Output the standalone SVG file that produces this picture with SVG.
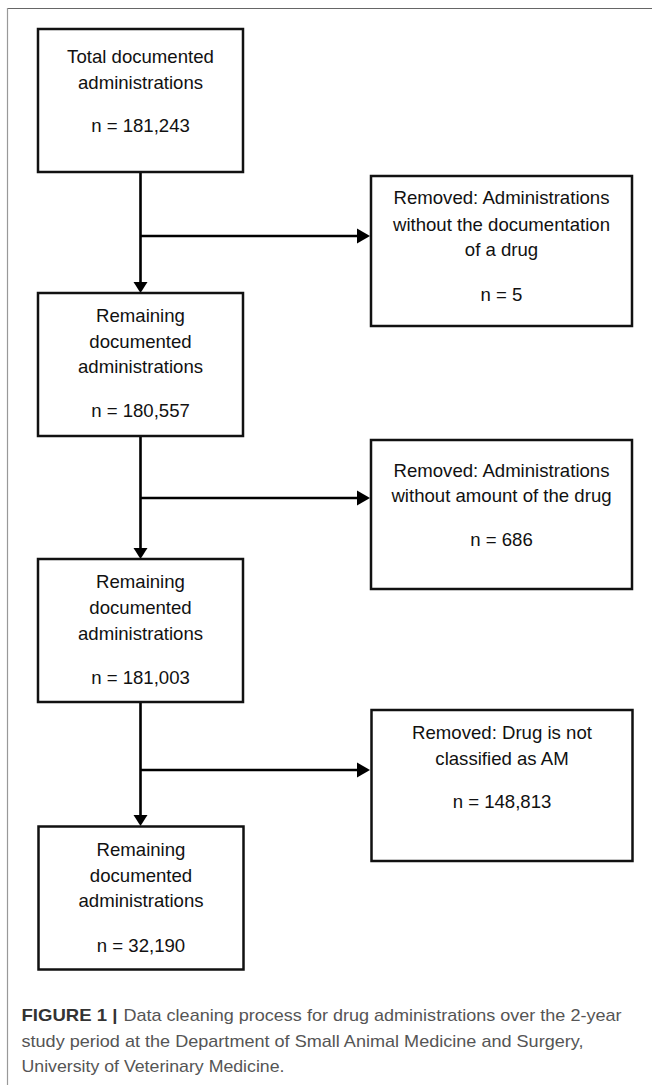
<svg xmlns="http://www.w3.org/2000/svg" width="652" height="1085" viewBox="0 0 652 1085">
  <style>
    .box { fill: #ffffff; stroke: #111111; stroke-width: 2.5; }
    .t { font-family: "Liberation Sans", Arial, sans-serif; font-size: 18.6px; fill: #111111; text-anchor: middle; }
    .line { stroke: #000000; stroke-width: 2.6; fill: none; }
    .head { fill: #000000; stroke: none; }
    .cap { font-family: "Liberation Sans", Arial, sans-serif; font-size: 17px; fill: #555555; }
    .capb { font-family: "Liberation Sans", Arial, sans-serif; font-size: 17px; fill: #333333; font-weight: bold; }
  </style>
  <rect x="0" y="0" width="652" height="1085" fill="#ffffff"/>
  <g id="frame">
    <line x1="7.5" y1="8.5" x2="652" y2="8.5" stroke="#666666" stroke-width="1.2"/>
    <line x1="7.5" y1="8" x2="7.5" y2="1085" stroke="#999999" stroke-width="1.2"/>
  </g>
  <g id="connectors">
    <line class="line" x1="140.5" y1="172" x2="140.5" y2="284"/>
    <polygon class="head" points="133.5,282 147.5,282 140.5,293"/>
    <line class="line" x1="140.5" y1="236" x2="358" y2="236"/>
    <polygon class="head" points="357,228.5 357,243.5 370,236"/>

    <line class="line" x1="140.5" y1="436" x2="140.5" y2="550"/>
    <polygon class="head" points="133.5,548 147.5,548 140.5,559"/>
    <line class="line" x1="140.5" y1="498" x2="358" y2="498"/>
    <polygon class="head" points="357,490.5 357,505.5 370,498"/>

    <line class="line" x1="140.5" y1="702" x2="140.5" y2="817"/>
    <polygon class="head" points="133.5,815 147.5,815 140.5,826"/>
    <line class="line" x1="140.5" y1="770" x2="358" y2="770"/>
    <polygon class="head" points="357,762.5 357,777.5 370,770"/>
  </g>
  <g id="node-total">
    <rect class="box" x="38" y="29" width="205" height="143"/>
    <text class="t" x="140.5" y="63">Total documented</text>
    <text class="t" x="140.5" y="88.5">administrations</text>
    <text class="t" x="140.5" y="132">n = 181,243</text>
  </g>
  <g id="node-removed-1">
    <rect class="box" x="371" y="176" width="261" height="150"/>
    <text class="t" x="501.5" y="204">Removed: Administrations</text>
    <text class="t" x="501.5" y="230.5">without the documentation</text>
    <text class="t" x="501.5" y="256">of a drug</text>
    <text class="t" x="501.5" y="300.5">n = 5</text>
  </g>
  <g id="node-remaining-1">
    <rect class="box" x="38" y="293" width="205" height="143"/>
    <text class="t" x="140.5" y="321.5">Remaining</text>
    <text class="t" x="140.5" y="347.5">documented</text>
    <text class="t" x="140.5" y="373">administrations</text>
    <text class="t" x="140.5" y="417">n = 180,557</text>
  </g>
  <g id="node-removed-2">
    <rect class="box" x="371" y="440" width="261" height="149"/>
    <text class="t" x="501.5" y="476.5">Removed: Administrations</text>
    <text class="t" x="501.5" y="502">without amount of the drug</text>
    <text class="t" x="501.5" y="546">n = 686</text>
  </g>
  <g id="node-remaining-2">
    <rect class="box" x="38" y="559" width="205" height="143"/>
    <text class="t" x="140.5" y="588">Remaining</text>
    <text class="t" x="140.5" y="614">documented</text>
    <text class="t" x="140.5" y="640">administrations</text>
    <text class="t" x="140.5" y="684">n = 181,003</text>
  </g>
  <g id="node-removed-3">
    <rect class="box" x="371.5" y="710" width="261" height="151"/>
    <text class="t" x="502" y="739">Removed: Drug is not</text>
    <text class="t" x="502" y="765">classified as AM</text>
    <text class="t" x="502" y="808">n = 148,813</text>
  </g>
  <g id="node-remaining-3">
    <rect class="box" x="38.5" y="826.5" width="205" height="143"/>
    <text class="t" x="141" y="855.5">Remaining</text>
    <text class="t" x="141" y="881.5">documented</text>
    <text class="t" x="141" y="907">administrations</text>
    <text class="t" x="141" y="951.5">n = 32,190</text>
  </g>
  <g id="caption">
    <text class="capb" x="21.5" y="1020.5" textLength="96" lengthAdjust="spacingAndGlyphs">FIGURE 1 |</text>
    <text class="cap" x="123.5" y="1020.5" textLength="498" lengthAdjust="spacingAndGlyphs">Data cleaning process for drug administrations over the 2-year</text>
    <text class="cap" x="21.5" y="1046.5" textLength="562" lengthAdjust="spacingAndGlyphs">study period at the Department of Small Animal Medicine and Surgery,</text>
    <text class="cap" x="21.5" y="1071.5" textLength="263" lengthAdjust="spacingAndGlyphs">University of Veterinary Medicine.</text>
  </g>
</svg>
